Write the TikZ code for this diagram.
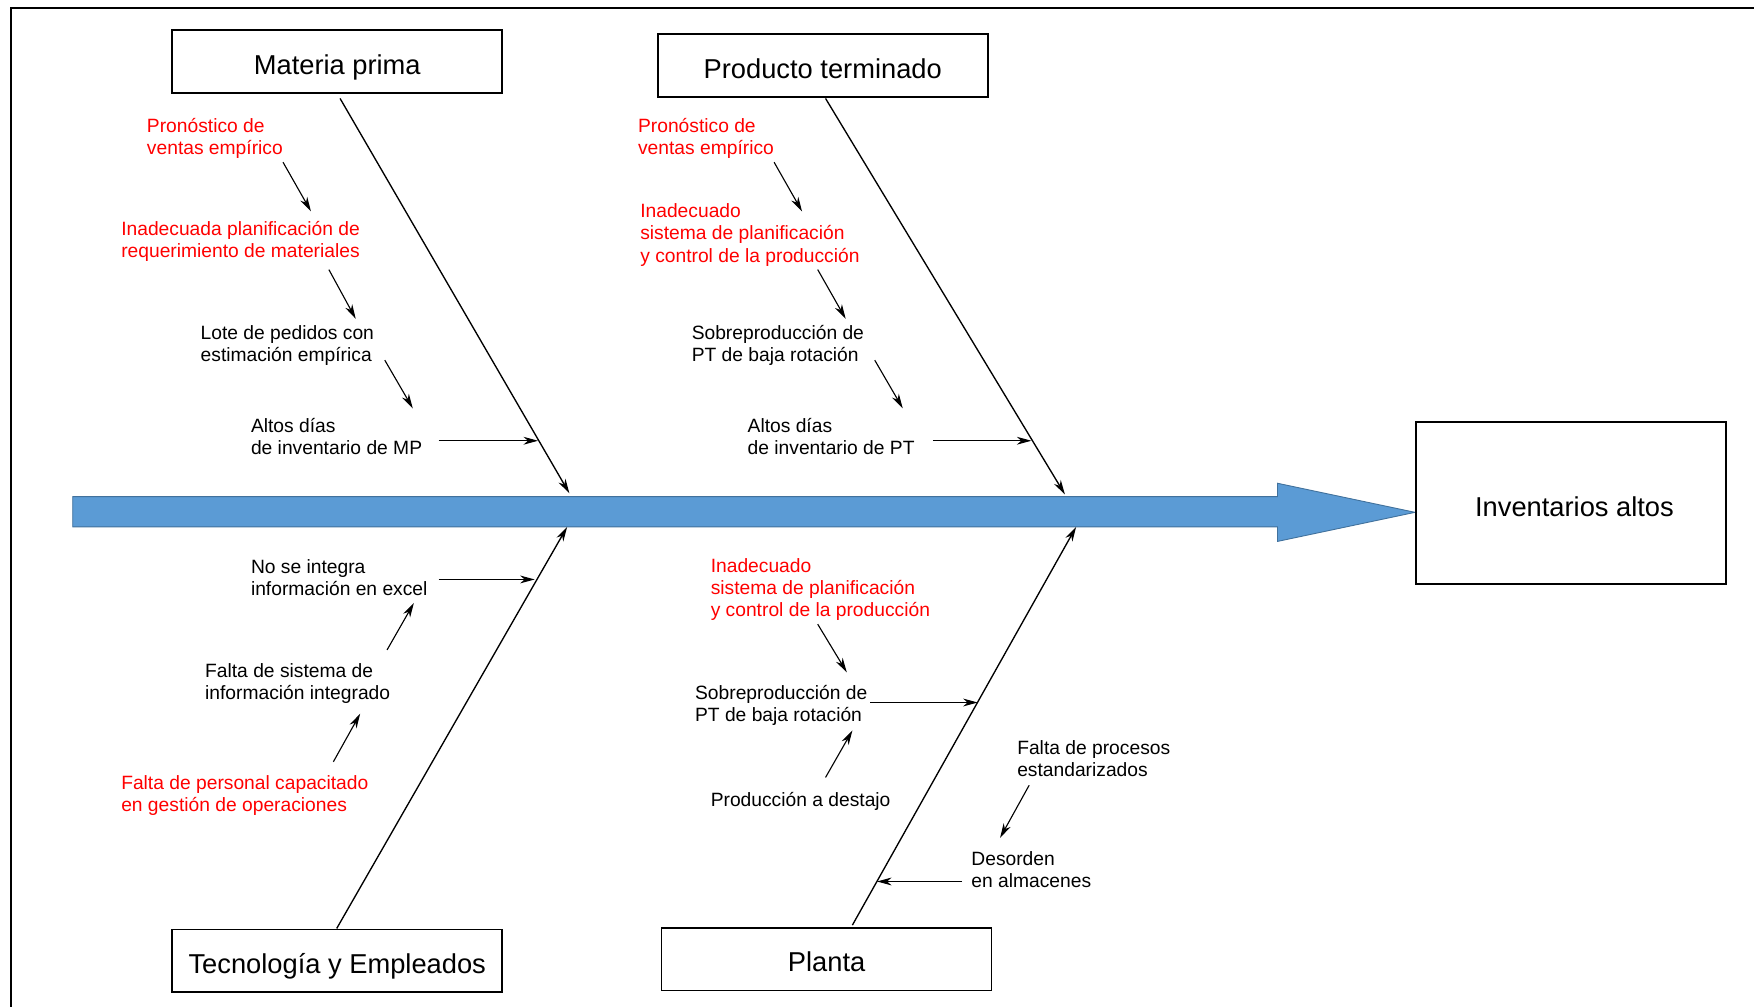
\documentclass[tikz,border=0pt]{standalone}
\usepackage{fontspec}
\setmainfont{Liberation Sans}
\usetikzlibrary{arrows.meta}
\definecolor{barblue}{HTML}{5B9BD5}
\definecolor{baredge}{HTML}{41719C}
\definecolor{causered}{HTML}{FF0000}

\begin{document}
\begin{tikzpicture}[x=0.5pt,y=-0.5pt,
  catbox/.style={draw,line width=0.7pt,minimum width=147.5pt,minimum height=28pt,
    inner sep=0pt,text height=11.4pt,text depth=0pt,font=\fontsize{12.2}{14}\selectfont},
  effectbox/.style={catbox,minimum width=138.5pt,minimum height=72.5pt,text height=12pt},
  cause/.style={anchor=north west,align=left,inner sep=0pt,font=\fontsize{8.6}{10}\selectfont},
  rootcause/.style={cause,text=causered},
  tip/.style={-{Stealth[length=6.5pt,width=3.5pt,inset=2pt]}},
  bone/.style={tip,line width=0.6pt},
  subarrow/.style={tip,line width=0.5pt}
]
\useasboundingbox (0,0) rectangle (1568,900);

% outer frame (left and top edges)
\draw[line width=1pt] (10,900) -- (10,7) -- (1568,7);

% spine arrow
\filldraw[fill=barblue,draw=baredge,line width=0.4pt]
  (65,444) -- (1142,444) -- (1142,432) -- (1265,458) -- (1142,484) -- (1142,471) -- (65,471) -- cycle;

% category boxes and effect
\node[catbox] (mp) at (301.5,55) {Materia prima};
\node[catbox] (pt) at (735.5,58.5) {Producto terminado};
\node[catbox] (te) at (301.5,859) {Tecnología y Empleados};
\node[catbox] (pl) at (739,857.5) {Planta};
\node[effectbox] (ef) at (1404.5,449.5) {\hspace*{3pt}Inventarios altos};

% bone ends
\coordinate (mpA) at (304,88);   \coordinate (mpB) at (509,441);
\coordinate (ptA) at (738,88);   \coordinate (ptB) at (952,442);
\coordinate (teA) at (301,830);  \coordinate (teB) at (507,471);
\coordinate (plA) at (762,827);  \coordinate (plB) at (962,471);

\draw[bone] (mpA) -- (mpB);
\draw[bone] (ptA) -- (ptB);
\draw[bone] (teA) -- (teB);
\draw[bone] (plA) -- (plB);

% Materia prima causes
\node[rootcause] (mp1) at (131,104) {\strut Pronóstico de\\ventas empírico\strut};
\node[rootcause] (mp2) at (108,196) {\strut Inadecuada planificación de\\requerimiento de materiales\strut};
\node[cause] (mp3) at (179,289) {\strut Lote de pedidos con\\estimación empírica\strut};
\node[cause] (mp4) at (224,372) {\strut Altos días\\de inventario de MP\strut};

% Producto terminado causes
\node[rootcause] (pt1) at (570,104) {\strut Pronóstico de\\ventas empírico\strut};
\node[rootcause] (pt2) at (572,180) {\strut Inadecuado\\sistema de planificación\\y control de la producción\strut};
\node[cause] (pt3) at (618,289) {\strut Sobreproducción de\\PT de baja rotación\strut};
\node[cause] (pt4) at (668,372) {\strut Altos días\\de inventario de PT\strut};

% Tecnologia y Empleados causes
\node[cause] (te1) at (224,498) {\strut No se integra\\información en excel\strut};
\node[cause] (te2) at (183,591) {\strut Falta de sistema de\\información integrado\strut};
\node[rootcause] (te3) at (108,691) {\strut Falta de personal capacitado\\en gestión de operaciones\strut};

% Planta causes
\node[rootcause] (pl1) at (635,497) {\strut Inadecuado\\sistema de planificación\\y control de la producción\strut};
\node[cause] (pl2) at (621,611) {\strut Sobreproducción de\\PT de baja rotación\strut};
\node[cause] (pl3) at (635,707) {\strut Producción a destajo\strut};
\node[cause] (pl4) at (909,660) {\strut Falta de procesos\\estandarizados\strut};
\node[cause] (pl5) at (868,759) {\strut Desorden\\en almacenes\strut};

% arrow end points
\coordinate (m1s) at (253,145); \coordinate (m1e) at (278,189);
\coordinate (m2s) at (294,241); \coordinate (m2e) at (318,285);
\coordinate (m3s) at (344,322); \coordinate (m3e) at (369,365);
\coordinate (m4s) at (392,394); \coordinate (m4e) at (481,394);

\coordinate (p1s) at (692,145); \coordinate (p1e) at (717,189);
\coordinate (p2s) at (731,241); \coordinate (p2e) at (756,285);
\coordinate (p3s) at (782,322); \coordinate (p3e) at (807,365);
\coordinate (p4s) at (834,394); \coordinate (p4e) at (922,394);

\coordinate (t1s) at (392,518); \coordinate (t1e) at (478,518);
\coordinate (t2s) at (346,581); \coordinate (t2e) at (370,539);
\coordinate (t3s) at (298,681); \coordinate (t3e) at (322,638);

\coordinate (l1s) at (731,558); \coordinate (l1e) at (757,601);
\coordinate (l2s) at (778,628); \coordinate (l2e) at (874,628);
\coordinate (l3s) at (738,695); \coordinate (l3e) at (762,653);
\coordinate (l4s) at (920,702); \coordinate (l4e) at (894,749);
\coordinate (l5s) at (860,788); \coordinate (l5e) at (784,788);

\foreach \a in {m1,m2,m3,m4,p1,p2,p3,p4,t1,t2,t3,l1,l2,l3,l4,l5}
  \draw[subarrow] (\a s) -- (\a e);

\end{tikzpicture}
\end{document}
